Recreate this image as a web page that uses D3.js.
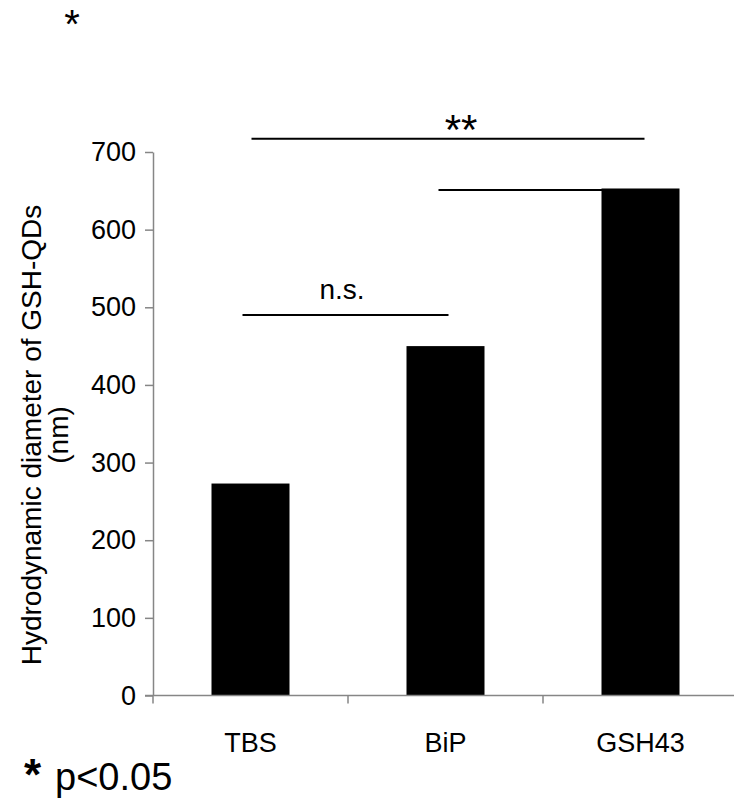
<!DOCTYPE html>
<html>
<head>
<meta charset="utf-8">
<script src="https://cdn.jsdelivr.net/npm/d3@7"></script>
<style>
  body { margin: 0; background: #fff; }
  svg { display: block; font-family: Arial, "Liberation Sans", sans-serif; }
</style>
</head>
<body>
<svg width="734" height="799"></svg>
<script>
// data
const categories = ['TBS', 'BiP', 'GSH43']
const diameters = [273, 450, 653]
const yTicks = [0, 100, 200, 300, 400, 500, 600, 700]

// significance brackets: from / to category, height in nm, label
const brackets = [
  { from: 'TBS', to: 'BiP', level: 490, label: 'n.s.' },
  { from: 'TBS', to: 'GSH43', level: 717, label: '**' },
  { from: 'BiP', to: 'GSH43', level: 651, label: '' }
]

const svg = d3.select('svg')

const yScale = d3.scaleLinear().domain([0, 700]).range([695.5, 152])
const xScale = d3.scaleBand()
  .domain(categories)
  .range([153, 738])
  .padding(0)

const axisColor = '#868686'
const barWidth = xScale.bandwidth() * 0.4
const center = c => xScale(c) + xScale.bandwidth() / 2

// y axis
const yAxis = svg.append('g')
  .attr('transform', 'translate(153,0)')
  .call(d3.axisLeft(yScale).tickValues(yTicks).tickSize(8).tickSizeOuter(0).tickPadding(9))
yAxis.select('.domain').attr('stroke', axisColor).attr('stroke-width', 1.5)
yAxis.selectAll('.tick line').attr('stroke', axisColor).attr('stroke-width', 1.5)
yAxis.selectAll('.tick text')
  .attr('fill', '#000')
  .style('font-size', '27px')
  .style('font-family', 'Arial, "Liberation Sans", sans-serif')

// bars
svg.selectAll('.bar')
  .data(diameters)
  .enter()
  .append('rect')
  .classed('bar', true)
  .attr('x', (d, i) => center(categories[i]) - barWidth / 2)
  .attr('width', barWidth)
  .attr('y', d => yScale(d))
  .attr('height', d => yScale(0) - yScale(d))
  .attr('fill', '#000')

// x axis line with ticks between categories
svg.append('line')
  .attr('x1', 145).attr('x2', 738)
  .attr('y1', yScale(0)).attr('y2', yScale(0))
  .attr('stroke', axisColor).attr('stroke-width', 1.5)

const xBounds = categories.map(c => xScale(c))
svg.selectAll('.xtick')
  .data(xBounds)
  .enter()
  .append('line')
  .attr('x1', d => d).attr('x2', d => d)
  .attr('y1', yScale(0)).attr('y2', yScale(0) + 8)
  .attr('stroke', axisColor).attr('stroke-width', 1.5)

svg.selectAll('.xlabel')
  .data(categories)
  .enter()
  .append('text')
  .attr('x', d => center(d))
  .attr('y', 752)
  .attr('text-anchor', 'middle')
  .style('font-size', '27px')
  .text(d => d)

// significance lines
brackets.forEach(b => {
  const x1 = center(b.from) - (b.label === 'n.s.' ? 8 : (b.from === 'BiP' ? 7 : -1))
  const x2 = center(b.to) + (b.to === 'BiP' ? 3 : (b.from === 'BiP' ? 11 : 4))
  svg.append('line')
    .attr('x1', x1).attr('x2', x2)
    .attr('y1', yScale(b.level)).attr('y2', yScale(b.level))
    .attr('stroke', '#000').attr('stroke-width', 2)
  if (b.label) {
    svg.append('text')
      .attr('x', b.label === '**' ? 461 : 342)
      .attr('y', yScale(b.level) + (b.label === '**' ? 5 : -16))
      .attr('text-anchor', 'middle')
      .style('font-size', b.label === '**' ? '42px' : '28px')
      .text(b.label)
  }
})

// stray asterisk at top left
svg.append('text')
  .attr('x', 72).attr('y', 38)
  .attr('text-anchor', 'middle')
  .style('font-size', '40px')
  .text('*')

// y axis title
const title = svg.append('text')
  .attr('transform', 'translate(0,435) rotate(-90)')
  .attr('text-anchor', 'middle')
  .style('font-size', '28px')
title.append('tspan').attr('x', 0).attr('y', 41).text('Hydrodynamic diameter of GSH-QDs')
title.append('tspan').attr('x', 0).attr('y', 68).text('(nm)')

// legend note
svg.append('text')
  .attr('x', 24).attr('y', 790)
  .style('font-size', '44px')
  .style('font-weight', 'bold')
  .text('*')
svg.append('text')
  .attr('x', 55).attr('y', 790)
  .style('font-size', '38px')
  .text('p<0.05')
</script>
</body>
</html>
